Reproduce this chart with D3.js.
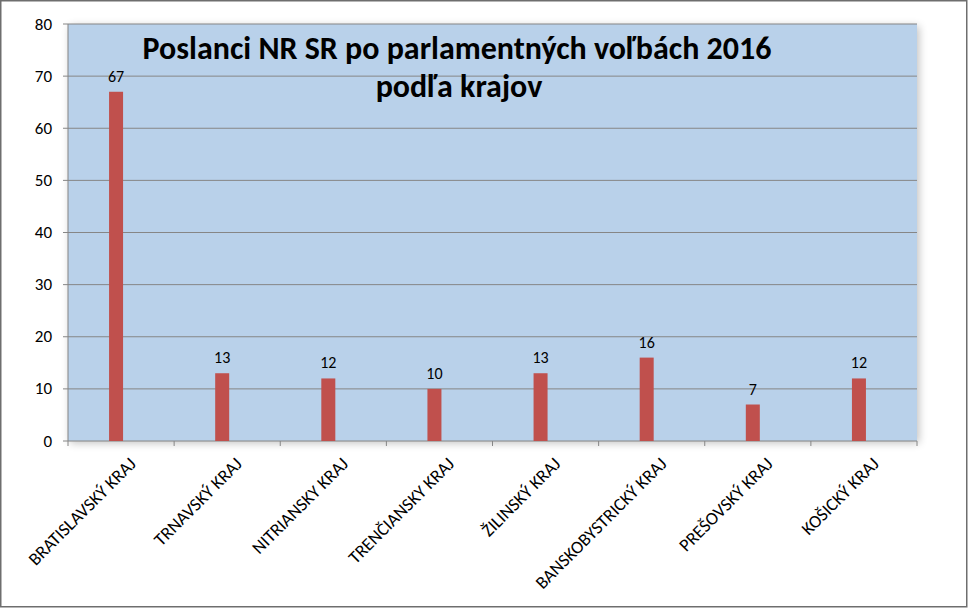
<!DOCTYPE html>
<html>
<head>
<meta charset="utf-8">
<script src="https://cdn.jsdelivr.net/npm/d3@7"></script>
<style>
  body { margin: 0; background: #fff; }
  text { font-family: Carlito, Calibri, Lato, sans-serif; }
</style>
</head>
<body>
<div id="chart"></div>
<script>
// Data.
var regions = ["BRATISLAVSKÝ KRAJ", "TRNAVSKÝ KRAJ", "NITRIANSKY KRAJ", "TRENČIANSKY KRAJ",
  "ŽILINSKÝ KRAJ", "BANSKOBYSTRICKÝ KRAJ", "PREŠOVSKÝ KRAJ", "KOŠICKÝ KRAJ"];
var seats = [67, 13, 12, 10, 13, 16, 7, 12];
var yTicks = [0, 10, 20, 30, 40, 50, 60, 70, 80];
var titleLines = ["Poslanci NR SR po parlamentných voľbách 2016", "podľa krajov"];

var svgWidth = 968, svgHeight = 608;
var plot = { left: 68, right: 917, top: 24, bottom: 441 };

var svg = d3.select("#chart").append("svg")
  .attr("width", svgWidth)
  .attr("height", svgHeight);

// Outer frame.
svg.append("rect")
  .attr("x", 0.75).attr("y", 0.75)
  .attr("width", svgWidth - 2).attr("height", svgHeight - 2)
  .attr("fill", "#fff").attr("stroke", "#6e6e6e").attr("stroke-width", 1.5);

var x = d3.scaleBand().domain(regions).range([plot.left, plot.right]);
var y = d3.scaleLinear().domain([0, 80]).range([plot.bottom, plot.top]);

// Plot background with soft shadow.
var defs = svg.append("defs");
var f = defs.append("filter").attr("id", "shadow").attr("x", "-5%").attr("y", "-5%").attr("width", "110%").attr("height", "110%");
f.append("feGaussianBlur").attr("in", "SourceAlpha").attr("stdDeviation", 4);
f.append("feOffset").attr("dx", 2).attr("dy", 2);
f.append("feComponentTransfer").append("feFuncA").attr("type", "linear").attr("slope", 0.25);
var m = f.append("feMerge");
m.append("feMergeNode");
m.append("feMergeNode").attr("in", "SourceGraphic");

svg.append("rect")
  .attr("x", plot.left).attr("y", plot.top)
  .attr("width", plot.right - plot.left).attr("height", plot.bottom - plot.top)
  .attr("fill", "#b9d1ea")
  .attr("filter", "url(#shadow)");

// Gridlines.
svg.selectAll(".grid").data(yTicks.filter(d => d > 0)).enter()
  .append("line")
  .attr("x1", plot.left - 5).attr("x2", plot.right)
  .attr("y1", d => y(d)).attr("y2", d => y(d))
  .attr("stroke", "#868686").attr("stroke-width", 1);

// Y axis.
svg.append("line")
  .attr("x1", plot.left).attr("x2", plot.left)
  .attr("y1", plot.top).attr("y2", plot.bottom)
  .attr("stroke", "#868686");
svg.selectAll(".ylab").data(yTicks).enter()
  .append("text")
  .attr("x", 52).attr("y", d => y(d))
  .attr("text-anchor", "end").attr("dominant-baseline", "central")
  .attr("font-size", 17).attr("fill", "#000")
  .text(d => d);

// X axis.
svg.append("line")
  .attr("x1", plot.left - 5).attr("x2", plot.right)
  .attr("y1", plot.bottom).attr("y2", plot.bottom)
  .attr("stroke", "#868686");
var bounds = regions.map(d => x(d)).concat([plot.right]);
svg.selectAll(".xtick").data(bounds).enter()
  .append("line")
  .attr("x1", d => d).attr("x2", d => d)
  .attr("y1", plot.bottom).attr("y2", plot.bottom + 5)
  .attr("stroke", "#868686");

// Bars.
var barW = 14, shift = -5;
svg.selectAll(".bar").data(seats).enter()
  .append("rect")
  .attr("x", (d, i) => x(regions[i]) + x.bandwidth() / 2 - barW / 2 + shift)
  .attr("y", d => y(d))
  .attr("width", barW)
  .attr("height", d => plot.bottom - y(d))
  .attr("fill", "#c0504d");

// Value labels.
svg.selectAll(".val").data(seats).enter()
  .append("text")
  .attr("x", (d, i) => x(regions[i]) + x.bandwidth() / 2 + shift)
  .attr("y", d => y(d) - 10)
  .attr("text-anchor", "middle")
  .attr("font-size", 16)
  .text(d => d);

// Category labels, rotated.
svg.selectAll(".cat").data(regions).enter()
  .append("text")
  .attr("transform", d => `translate(${x(d) + x.bandwidth() / 2 + 16}, ${plot.bottom + 24}) rotate(-45)`)
  .attr("text-anchor", "end")
  .attr("font-size", 18)
  .text(d => d);

// Title.
svg.selectAll(".title").data(titleLines).enter()
  .append("text")
  .attr("x", (d, i) => i === 0 ? 457 : 459)
  .attr("y", (d, i) => 59 + i * 38)
  .attr("text-anchor", "middle")
  .attr("font-size", 32).attr("font-weight", "bold")
  .text(d => d);
</script>
</body>
</html>
